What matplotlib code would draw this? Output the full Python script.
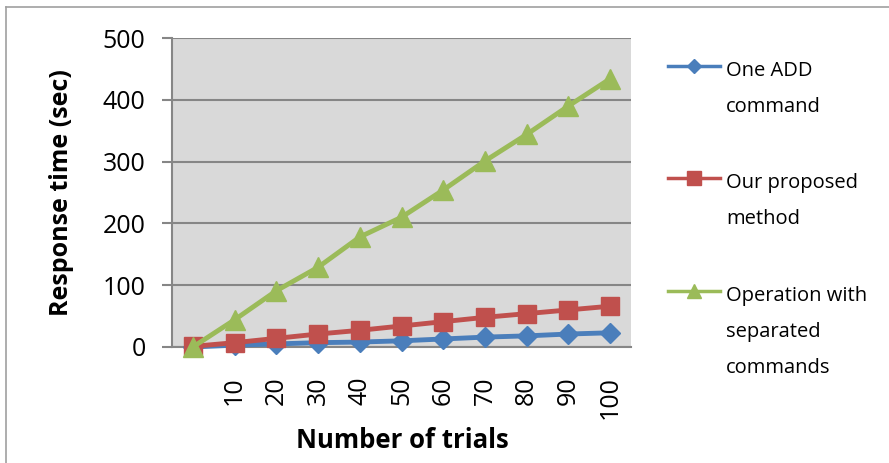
import matplotlib
matplotlib.use("Agg")
import matplotlib.pyplot as plt
from matplotlib.lines import Line2D

plt.rcParams['font.family'] = ['Open Sans', 'DejaVu Sans']

categories = ["", "10", "20", "30", "40", "50", "60", "70", "80", "90", "100"]
one_add = [0, 3, 5, 7, 8, 10, 13, 16, 18, 21, 23]
proposed = [1, 7, 14, 21, 27, 34, 41, 48, 54, 60, 66]
separated = [0, 44, 91, 129, 178, 210, 254, 301, 344, 390, 434]
series_names = ["One ADD\ncommand", "Our proposed\nmethod", "Operation with\nseparated\ncommands"]
y_ticks = [0, 100, 200, 300, 400, 500]

W, H = 889, 463
fig = plt.figure(figsize=(W / 100, H / 100), dpi=100)
fig.patch.set_facecolor('white')

def fx(px):
    return px / W

def fy(py):
    return 1 - py / H

ax = fig.add_axes([fx(172), fy(347), fx(631) - fx(172), fy(38) - fy(347)])
ax.set_facecolor('#D9D9D9')

colors = ['#4A7EBB', '#C0504D', '#9BBB59']
markers = ['D', 's', '^']
msizes = [10, 13, 14]
data = [one_add, proposed, separated]
x = list(range(len(categories)))
for vals, c, m, ms in zip(data, colors, markers, msizes):
    ax.plot(x, vals, color=c, lw=3.5, marker=m, markersize=ms,
            markeredgecolor=c, zorder=3, clip_on=False)

ax.set_xlim(-0.5, len(categories) - 0.5)
ax.set_ylim(0, 500)
ax.set_yticks(y_ticks)
ax.set_yticklabels([str(v) for v in y_ticks], fontsize=18)
ax.yaxis.grid(True, color='#868686', lw=1.5, zorder=1)
ax.set_axisbelow(True)
ax.tick_params(axis='y', direction='out', length=7, width=1.5, color='#868686', pad=12)
ax.set_xticks(x)
ax.set_xticklabels(categories, rotation=90, fontsize=18, va='top', ha='center')
ax.tick_params(axis='x', length=0, pad=21)

for s in ['top', 'right']:
    ax.spines[s].set_visible(False)
for s in ['left', 'bottom']:
    ax.spines[s].set_color('#868686')
    ax.spines[s].set_linewidth(1.5)

fig.text(fx(402), fy(440), "Number of trials", fontsize=18.5, fontweight='bold',
         ha='center', va='center')
fig.text(fx(61), fy(193), "Response time (sec)", fontsize=18, fontweight='bold',
         ha='center', va='center', rotation=90)

# legend (manual)
handle_y = [66, 178, 291]
for name, c, m, ms, hy in zip(series_names, colors, markers, msizes, handle_y):
    fig.add_artist(Line2D([fx(668), fx(720)], [fy(hy), fy(hy)], color=c, lw=2.5,
                          transform=fig.transFigure))
    fig.add_artist(Line2D([fx(694)], [fy(hy)], color=c, marker=m, markersize=ms * 0.75,
                          markeredgecolor=c, transform=fig.transFigure))
    for i, line in enumerate(name.split("\n")):
        fig.text(fx(726), fy(hy + 5 + 36 * i), line, fontsize=14.5, ha='left', va='center')

# outer frame (top and left visible)
fig.add_artist(Line2D([fx(6), 1], [fy(7), fy(7)], color='#A0A0A0', lw=1.2,
                      transform=fig.transFigure))
fig.add_artist(Line2D([fx(6), fx(6)], [fy(7), 0], color='#A0A0A0', lw=1.2,
                      transform=fig.transFigure))

fig.savefig("out.png", dpi=100)
